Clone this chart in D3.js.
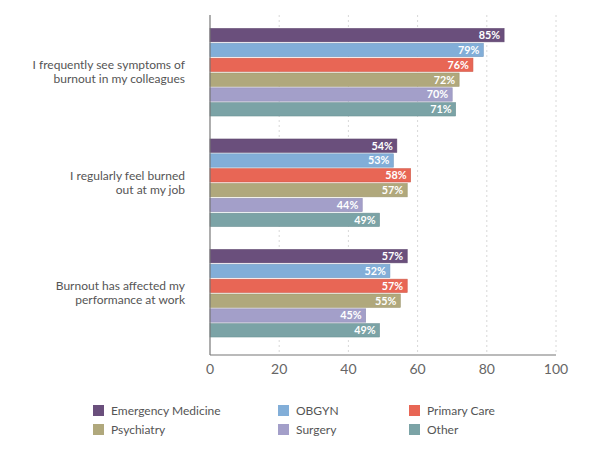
<!DOCTYPE html>
<html><head><meta charset="utf-8">
<script src="https://cdn.jsdelivr.net/npm/d3@7"></script>
<style>body{margin:0;background:#fff}svg{display:block}</style>
</head><body><svg id="c" width="600" height="460"></svg>
<script>
const categories = [
  ["I frequently see symptoms of", "burnout in my colleagues"],
  ["I regularly feel burned", "out at my job"],
  ["Burnout has affected my", "performance at work"]
];
const seriesNames = ["Emergency Medicine","OBGYN","Primary Care","Psychiatry","Surgery","Other"];
const seriesColors = ["#6a4f7c","#82aed8","#e86655","#b0a87c","#a39fc9","#7ba3a6"];
const values = [
  [85,79,76,72,70,71],
  [54,53,58,57,44,49],
  [57,52,57,55,45,49]
];
const xTicks = [0,20,40,60,80,100];

const svg = d3.select("#c");
const font = "Lato, 'Noto Sans', sans-serif";
const x = d3.scaleLinear().domain([0,100]).range([210,556]);
const y = d3.scaleBand().domain(d3.range(categories.length)).range([17,348.5]).paddingInner(0.2).paddingOuter(0.1);
const yi = d3.scaleBand().domain(d3.range(seriesNames.length)).range([0,y.bandwidth()]).paddingInner(0.1).paddingOuter(0.03);

// grid
svg.append("g").selectAll("line").data(xTicks.slice(1)).join("line")
  .attr("x1",d=>x(d)).attr("x2",d=>x(d)).attr("y1",15).attr("y2",355)
  .attr("stroke","#d8d8d8").attr("stroke-dasharray","2,3");

// bars
const g = svg.append("g").selectAll("g").data(values).join("g")
  .attr("transform",(d,i)=>`translate(0,${y(i)})`);
g.selectAll("rect").data(d=>d).join("rect")
  .attr("x",x(0)).attr("y",(d,j)=>yi(j)).attr("width",d=>x(d)-x(0)).attr("height",yi.bandwidth())
  .attr("fill",(d,j)=>seriesColors[j])
  .attr("stroke",(d,j)=>d3.color(seriesColors[j]).darker(0.3)).attr("stroke-width",0.6);
g.selectAll("text").data(d=>d).join("text")
  .attr("x",d=>x(d)-4).attr("y",(d,j)=>yi(j)+yi.bandwidth()/2).attr("dy","0.36em")
  .attr("text-anchor","end").attr("fill","#fff").attr("font-family",font)
  .attr("font-weight","bold").attr("font-size",10.8).text(d=>d+"%");

// axes lines
svg.append("line").attr("x1",x(0)).attr("x2",x(0)).attr("y1",15).attr("y2",355).attr("stroke","#777").attr("stroke-width",1.2);
svg.append("line").attr("x1",x(0)).attr("x2",x(100)).attr("y1",355).attr("y2",355).attr("stroke","#777").attr("stroke-width",1.2);

// x ticks
svg.append("g").selectAll("text").data(xTicks).join("text")
  .attr("x",d=>x(d)).attr("y",374).attr("text-anchor","middle")
  .attr("font-family",font).attr("font-size",14).attr("fill","#666").text(d=>d);

// y labels
const yl = svg.append("g").selectAll("text").data(categories).join("text")
  .attr("text-anchor","end").attr("font-family",font).attr("font-size",12).attr("fill","#555")
  .attr("transform",(d,i)=>`translate(185,${y(i)+y.bandwidth()/2})`);
yl.selectAll("tspan").data(d=>d).join("tspan")
  .attr("x",0).attr("y",(d,k)=>(k-0.5)*14+4).text(d=>d);

// legend
const lx = [93,278,409];
const lg = svg.append("g").selectAll("g").data(seriesNames).join("g")
  .attr("transform",(d,i)=>`translate(${lx[i%3]},${405+Math.floor(i/3)*19})`);
lg.append("rect").attr("width",11).attr("height",11).attr("fill",(d,i)=>seriesColors[i]);
lg.append("text").attr("x",18).attr("y",5.5).attr("dy","0.35em").attr("font-family",font)
  .attr("font-size",12).attr("fill","#555").text(d=>d);
</script></body></html>
